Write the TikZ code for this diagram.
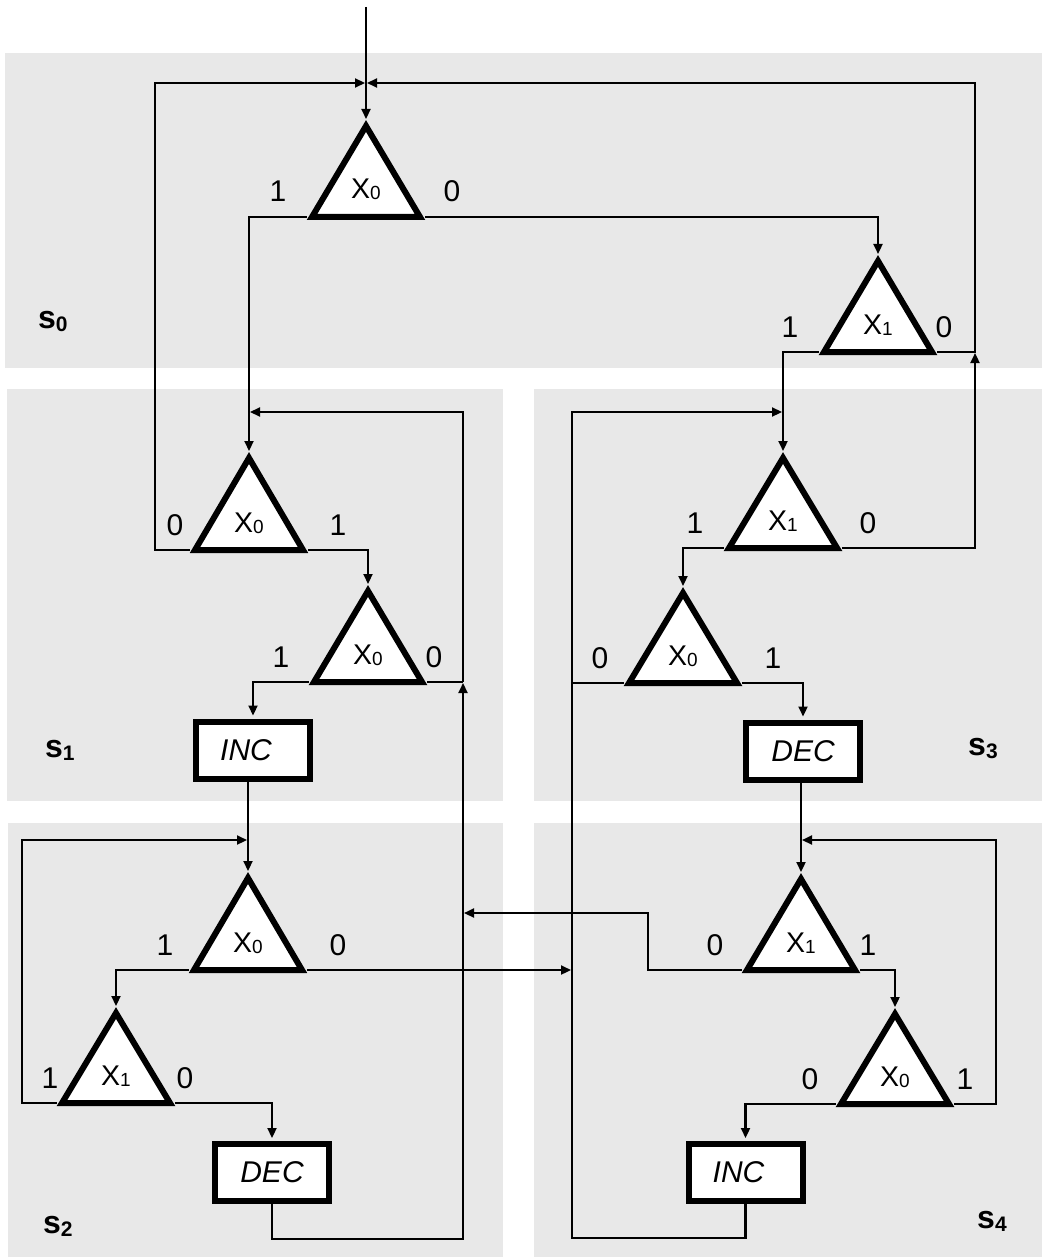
\documentclass[tikz,border=0pt]{standalone}
\usepackage{fontspec}
\setmainfont{Liberation Sans}
\usetikzlibrary{arrows.meta,calc}
\definecolor{panel}{RGB}{232,232,232}
\tikzset{
  conn/.style={line width=2.2pt, line join=miter},
  arr/.style={conn, -{Triangle[length=10pt,width=9pt]}, shorten >=1pt},
  barr/.style={arr, shorten >=3pt},
  trishape/.style={draw, line width=6pt, fill=white, line join=miter},
  opbox/.style={draw, line width=6pt, fill=white, minimum width=114pt, minimum height=57pt, inner sep=0pt, font=\fontsize{30}{30}\selectfont\itshape},
  dig/.style={font=\fontsize{30}{30}\selectfont, inner sep=0pt, anchor=base},
  xlab/.style={font=\fontsize{28.5}{28.5}\selectfont, inner sep=0pt, anchor=base},
  slab/.style={font=\fontsize{32}{32}\selectfont\bfseries, inner sep=0pt, anchor=base west},
}
% #1 name, #2 centre x, #3 apex y, #4 base y, #5 subscript, #6 left label, #7 its x, #8 right label, #9 its x
\newcommand\bddnode[9]{%
  \coordinate (#1-in) at (#2,#3);
  \coordinate (#1-l) at (#2-59,#4);
  \coordinate (#1-r) at (#2+59,#4);
  \draw[trishape] (#2,#3+6) -- (#2-54,#4) -- (#2+54,#4) -- cycle;
  \node[xlab] (#1) at (#2,#4-18) {X\raisebox{-1pt}{\fontsize{19}{19}\selectfont #5}};
  \node[dig] (#1-ll) at (#7,#4-15) {#6};
  \node[dig] (#1-rl) at (#9,#4-15) {#8};
}
\newcommand\slabel[4]{%
  \node[slab] (#1) at (#2,#3) {s\raisebox{-3.5pt}{\fontsize{21}{21}\selectfont\bfseries #4}};
}
\begin{document}
\begin{tikzpicture}[x=1pt,y=-1pt]
\useasboundingbox (0,0) rectangle (1042,1257);
% panels
\fill[panel] (5,53) rectangle (1042,368);
\fill[panel] (7,389) rectangle (503,801);
\fill[panel] (534,389) rectangle (1042,801);
\fill[panel] (8,823) rectangle (503,1257);
\fill[panel] (534,823) rectangle (1042,1257);
% state labels
\slabel{s0}{38}{328}{0}
\slabel{s1}{45}{757}{1}
\slabel{s2}{43}{1233}{2}
\slabel{s3}{968}{755}{3}
\slabel{s4}{977}{1228}{4}
% decision triangles
\bddnode{T0}{366}{120}{217}{0}{1}{278}{0}{452}
\bddnode{T1}{878}{255}{352}{1}{1}{790}{0}{944}
\bddnode{T2}{249}{452}{550}{0}{0}{175}{1}{338}
\bddnode{T3}{368}{585}{682}{0}{1}{281}{0}{434}
\bddnode{T4}{783}{452}{548}{1}{1}{695}{0}{868}
\bddnode{T5}{683}{587}{683}{0}{0}{600}{1}{773}
\bddnode{T6}{248}{872}{970}{0}{1}{165}{0}{338}
\bddnode{T7}{116}{1007}{1103}{1}{1}{50}{0}{185}
\bddnode{T8}{801}{873}{970}{1}{0}{715}{1}{868}
\bddnode{T9}{895}{1008}{1104}{0}{0}{810}{1}{965}
% operation boxes
\node[opbox] (B1) at (253,750) {INC\kern14pt};
\node[opbox] (B2) at (803,751) {DEC};
\node[opbox] (B3) at (272,1172.5) {DEC};
\node[opbox] (B4) at (745.5,1172.5) {INC\kern14pt};
% junction coordinates
\coordinate (start) at (366,7);
\coordinate (J0) at (366,83);
\coordinate (R0) at (975,352);
\coordinate (R1) at (463,682);
\coordinate (R2) at (463,1239);
\coordinate (J2) at (249,412);
\coordinate (J3) at (248,840);
\coordinate (L0) at (572,412);
\coordinate (L1) at (572,970);
\coordinate (L2) at (572,1238);
\coordinate (J4) at (783,412);
\coordinate (J5) at (801,840);
\coordinate (K1) at (648,913);
% s0
\draw[arr] (start) -- (T0-in);
\draw[arr] (T2-l) -- ++(-35,0) |- (J0);
\draw[arr] (T1-r) -- (R0) |- (J0);
\draw[arr] (T4-r) -| (R0);
\draw[arr] (T0-l) -| (T2-in);
\draw[arr] (T0-r) -| (T1-in);
\draw[arr] (T1-l) -| (T4-in);
% s1
\draw[arr] (T2-r) -| (T3-in);
\draw[barr] (T3-l) -| (B1.north);
\draw[conn] (T3-r) -- (R1);
\draw[arr] (B3.south) |- (R2) -- (R1);
\draw[arr] (R1) |- (J2);
\draw[arr] (B1.south -| T6-in) -- (T6-in);
% s2
\draw[arr] (T7-l) -- ++(-35,0) |- (J3);
\draw[arr] (T6-l) -| (T7-in);
\draw[arr] (T6-r) -- (L1);
\draw[barr] (T7-r) -| (B3.north);
% s3
\draw[arr] (B4.south) |- (L2) -- (L0) -- (J4);
\draw[conn] (T5-l) -- (T5-l -| L0);
\draw[arr] (T4-l) -| (T5-in);
\draw[barr] (T5-r) -| (B2.north);
\draw[arr] (B2.south -| T8-in) -- (T8-in);
% s4
\draw[arr] (T9-r) -- ++(42,0) |- (J5);
\draw[arr] (T8-r) -| (T9-in);
\draw[arr] (T8-l) -| (K1) -- (R1 |- K1);
\draw[barr] (T9-l) -| (B4.north);
\end{tikzpicture}
\end{document}
